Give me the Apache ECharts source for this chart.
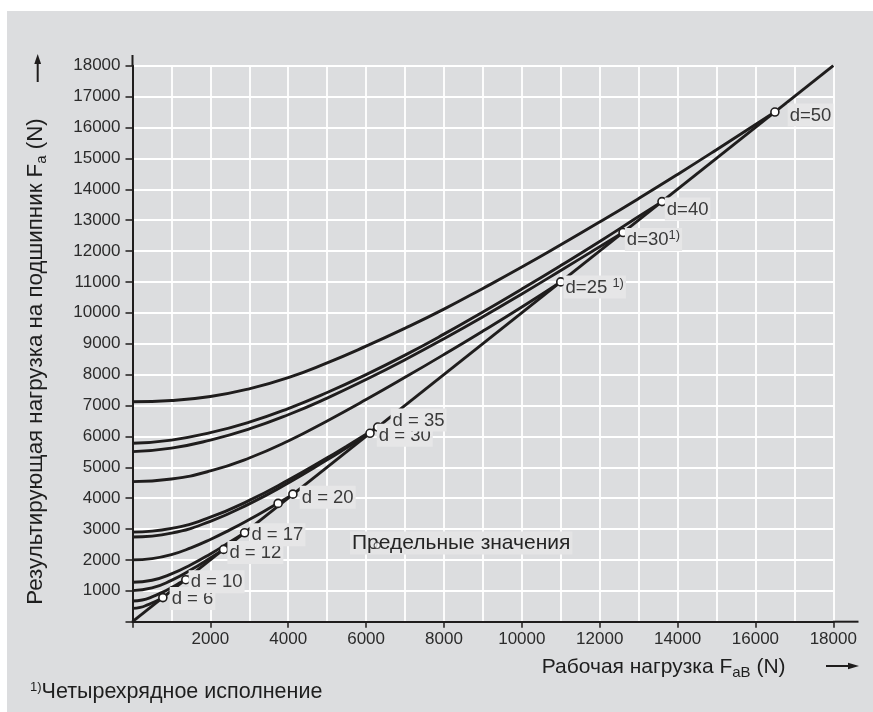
<!DOCTYPE html>
<html>
<head>
<meta charset="utf-8">
<title>Предельные значения</title>
<script src="https://cdn.jsdelivr.net/npm/echarts@6.0.0/dist/echarts.min.js"></script>
<style>
  html, body { margin: 0; padding: 0; background: #ffffff; }
  #wrap { position: absolute; left: 7px; top: 11px; width: 866px; height: 701px; background: #dcdddf; }
  #chart { width: 866px; height: 701px; }
</style>
</head>
<body>
<div id="wrap"><div id="chart"></div></div>
<script>
// Кривые: x - рабочая нагрузка FaB (N), y - результирующая нагрузка Fa (N)
var x_d6 = [0, 200, 400, 600, 780];
var y_d6 = [430, 461, 552, 661, 780];

var x_d10 = [0, 250, 500, 750, 1000, 1250, 1370];
var y_d10 = [672, 703, 801, 942, 1105, 1283, 1370];

var x_d12 = [0, 500, 1000, 1500, 2000, 2340];
var y_d12 = [1007, 1092, 1339, 1678, 2065, 2340];

var x_d17 = [0, 500, 1000, 1500, 2000, 2500, 2880];
var y_d17 = [1275, 1342, 1547, 1844, 2194, 2577, 2880];

var x_d20 = [0, 500, 1000, 1500, 2000, 2500, 3000, 3500, 4120];
var y_d20 = [2000, 2043, 2172, 2391, 2663, 2973, 3309, 3665, 4120];

var x_d30 = [0, 1000, 2000, 3000, 4000, 5000, 5500, 6100];
var y_d30 = [2740, 2866, 3251, 3815, 4492, 5239, 5628, 6100];

var x_d35 = [0, 1000, 2000, 3000, 4000, 5000, 5500, 6300];
var y_d35 = [2900, 3020, 3386, 3928, 4583, 5304, 5684, 6300];

var x_d25r = [0, 1000, 2000, 3000, 4000, 5000, 6000, 7000, 8000, 9000, 10000, 11000];
var y_d25r = [4535, 4620, 4880, 5300, 5850, 6500, 7190, 7910, 8650, 9410, 10190, 11000];

var x_d30r = [0, 1000, 2000, 3000, 4000, 5000, 6000, 7000, 8000, 9000, 10000, 11000, 12000, 12600];
var y_d30r = [5505, 5620, 5880, 6240, 6700, 7240, 7840, 8480, 9160, 9870, 10610, 11370, 12140, 12600];

var x_d40 = [0, 1000, 2000, 3000, 4000, 5000, 6000, 7000, 8000, 9000, 10000, 11000, 12000, 13000, 13600];
var y_d40 = [5775, 5880, 6120, 6460, 6900, 7420, 8000, 8630, 9310, 10030, 10770, 11530, 12310, 13120, 13600];

var x_d50 = [0, 1000, 2000, 3000, 4000, 5000, 6000, 7000, 8000, 9000, 10000, 11000, 12000, 13000, 14000, 15000, 16500];
var y_d50 = [7120, 7160, 7290, 7540, 7900, 8380, 8920, 9500, 10120, 10790, 11480, 12200, 12940, 13700, 14480, 15280, 16500];

// граничная прямая Fa = FaB
var x_limit = [0, 18000];
var y_limit = [0, 18000];

// точки на граничной прямой и их подписи
var pointX = [780, 1370, 2340, 2880, 3740, 4120, 6100, 6300, 11000, 12600, 13600, 16500];
var pointY = [780, 1360, 2340, 2880, 3830, 4130, 6100, 6300, 11000, 12600, 13600, 16500];
var pointLabel = ['d = 6', 'd = 10', 'd = 12', 'd = 17', '', 'd = 20', 'd = 30', 'd = 35', 'd=25 ', 'd=30', 'd=40', 'd=50'];
var pointNote = [0, 0, 0, 0, 0, 0, 0, 0, 1, 2, 0, 0]; // 1) - четырехрядное исполнение

// кружок под надписью
var strayX = [6284];
var strayY = [2466];

var FONT = '"Liberation Sans", Arial, sans-serif';
var INK = '#1f1d1d';

// сдвиг подписей от точки (px)
var labelShift = [[2, 1], [-2, 2], [-1, 3], [0, 2], [0, 0], [2, 3], [2, 2], [8, -7], [-2, 5], [-3, 7], [-2, 7.5], [8, 3]];

function pairs(xs, ys) {
    return xs.map(function (x, i) { return [x, ys[i]]; });
}

function curve(name, xs, ys) {
    return {
        name: name,
        type: 'line',
        data: pairs(xs, ys),
        smooth: true,
        symbol: 'none',
        silent: true,
        z: 3,
        lineStyle: { color: INK, width: 2.9 }
    };
}

var points = pointX.map(function (x, i) {
    var txt = pointLabel[i];
    if (pointNote[i] === 1) txt += '{supA|1)}';
    if (pointNote[i] === 2) txt += '{supB|1)}';
    return {
        value: [x, pointY[i]],
        label: {
            show: txt !== '',
            formatter: txt,
            position: 'right',
            distance: 0,
            offset: labelShift[i]
        }
    };
});

var myChart = echarts.init(document.getElementById('chart'), null, { renderer: 'canvas' });

myChart.setOption({
    animation: false,
    backgroundColor: 'transparent',
    grid: { left: 125.5, right: 39.7, top: 54.7, bottom: 90.3 },
    xAxis: {
        type: 'value',
        min: 0,
        max: 18000,
        interval: 2000,
        axisLine: { show: true, onZero: false, lineStyle: { color: INK, width: 2 } },
        axisTick: { show: true, length: 6, lineStyle: { color: INK, width: 1.5 } },
        axisLabel: {
            color: '#2b2b2b', fontSize: 17, fontFamily: FONT, margin: 9,
            formatter: function (v) { return v === 0 ? '' : String(v); }
        },
        splitLine: { show: true, lineStyle: { color: '#ffffff', width: 1.8 } },
        minorTick: { show: false, splitNumber: 2 },
        minorSplitLine: { show: true, lineStyle: { color: '#ffffff', width: 1.8 } }
    },
    yAxis: {
        type: 'value',
        min: 0,
        max: 18000,
        interval: 1000,
        axisLine: { show: true, onZero: false, lineStyle: { color: INK, width: 2 } },
        axisTick: { show: true, length: 7, lineStyle: { color: INK, width: 1.5 } },
        axisLabel: {
            color: '#2b2b2b', fontSize: 17, fontFamily: FONT, margin: 12,
            formatter: function (v) { return v === 0 ? '' : String(v); }
        },
        splitLine: { show: true, lineStyle: { color: '#ffffff', width: 1.8 } }
    },
    series: [
        curve('d=6', x_d6, y_d6),
        curve('d=10', x_d10, y_d10),
        curve('d=12', x_d12, y_d12),
        curve('d=17', x_d17, y_d17),
        curve('d=20', x_d20, y_d20),
        curve('d=30', x_d30, y_d30),
        curve('d=35', x_d35, y_d35),
        curve('d=25 1)', x_d25r, y_d25r),
        curve('d=30 1)', x_d30r, y_d30r),
        curve('d=40', x_d40, y_d40),
        curve('d=50', x_d50, y_d50),
        curve('limit', x_limit, y_limit),
        {
            name: 'points',
            type: 'scatter',
            data: points,
            symbol: 'circle',
            symbolSize: 8,
            silent: true,
            z: 5,
            itemStyle: { color: '#ffffff', borderColor: INK, borderWidth: 1.6, opacity: 1 },
            label: {
                color: '#3a3a3a',
                fontSize: 18.5,
                fontFamily: FONT,
                lineHeight: 22,
                backgroundColor: '#e6e6e7',
                padding: [1, 2, 0, 2],
                rich: {
                    supA: { fontSize: 13, lineHeight: 8, verticalAlign: 'top', fontFamily: FONT, color: '#3a3a3a' },
                    supB: { fontSize: 13, lineHeight: 14, verticalAlign: 'top', fontFamily: FONT, color: '#3a3a3a' }
                }
            }
        },
        {
            name: 'stray',
            type: 'scatter',
            data: pairs(strayX, strayY),
            symbol: 'circle',
            symbolSize: 6,
            silent: true,
            z: 7,
            itemStyle: { color: '#ffffff', borderColor: '#333333', borderWidth: 1.1 }
        }
    ],
    graphic: [
        // продолжение осей за сетку
        { type: 'line', z: 4, shape: { x1: 125.5, y1: 44, x2: 125.5, y2: 55 }, style: { stroke: INK, lineWidth: 2 } },
        { type: 'line', z: 4, shape: { x1: 826, y1: 610.7, x2: 851.5, y2: 610.7 }, style: { stroke: INK, lineWidth: 2 } },
        // стрелки
        { type: 'line', shape: { x1: 30.7, y1: 50, x2: 30.7, y2: 71 }, style: { stroke: INK, lineWidth: 2 } },
        { type: 'polygon', shape: { points: [[30.7, 43], [27.3, 53], [34.1, 53]] }, style: { fill: INK } },
        { type: 'line', shape: { x1: 819, y1: 655, x2: 845, y2: 655 }, style: { stroke: INK, lineWidth: 2 } },
        { type: 'polygon', shape: { points: [[852, 655], [841, 651.8], [841, 658.2]] }, style: { fill: INK } },
        // подписи осей
        {
            type: 'text', x: 29, y: 350.5, rotation: Math.PI / 2,
            style: {
                text: 'Результирующая нагрузка на подшипник F{sub|a} (N)',
                align: 'center', verticalAlign: 'middle',
                fill: '#1e1e1e', fontSize: 22.3, fontFamily: FONT, lineHeight: 26,
                rich: { sub: { fontSize: 15, lineHeight: 12, verticalAlign: 'bottom', fontFamily: FONT, fill: '#1e1e1e' } }
            }
        },
        {
            type: 'text', x: 534.7, y: 656,
            style: {
                text: 'Рабочая нагрузка F{sub|aB} (N)',
                align: 'left', verticalAlign: 'middle',
                fill: '#1e1e1e', fontSize: 21, fontFamily: FONT, lineHeight: 26,
                rich: { sub: { fontSize: 15, lineHeight: 12, verticalAlign: 'bottom', fontFamily: FONT, fill: '#1e1e1e' } }
            }
        },
        {
            type: 'text', x: 343, y: 532, z: 4,
            style: {
                text: 'Предельные значения',
                align: 'left', verticalAlign: 'middle',
                fill: '#252525', fontSize: 21, fontFamily: FONT,
                backgroundColor: '#e4e4e5', padding: [2, 2, 0, 2]
            }
        },
        {
            type: 'text', x: 23, y: 681.5,
            style: {
                text: '{sup|1)}Четырехрядное исполнение',
                align: 'left', verticalAlign: 'middle',
                fill: '#1e1e1e', fontSize: 21.5, fontFamily: FONT, lineHeight: 24,
                rich: { sup: { fontSize: 13, lineHeight: 12, verticalAlign: 'top', fontFamily: FONT, fill: '#1e1e1e' } }
            }
        }
    ]
});
</script>
</body>
</html>
